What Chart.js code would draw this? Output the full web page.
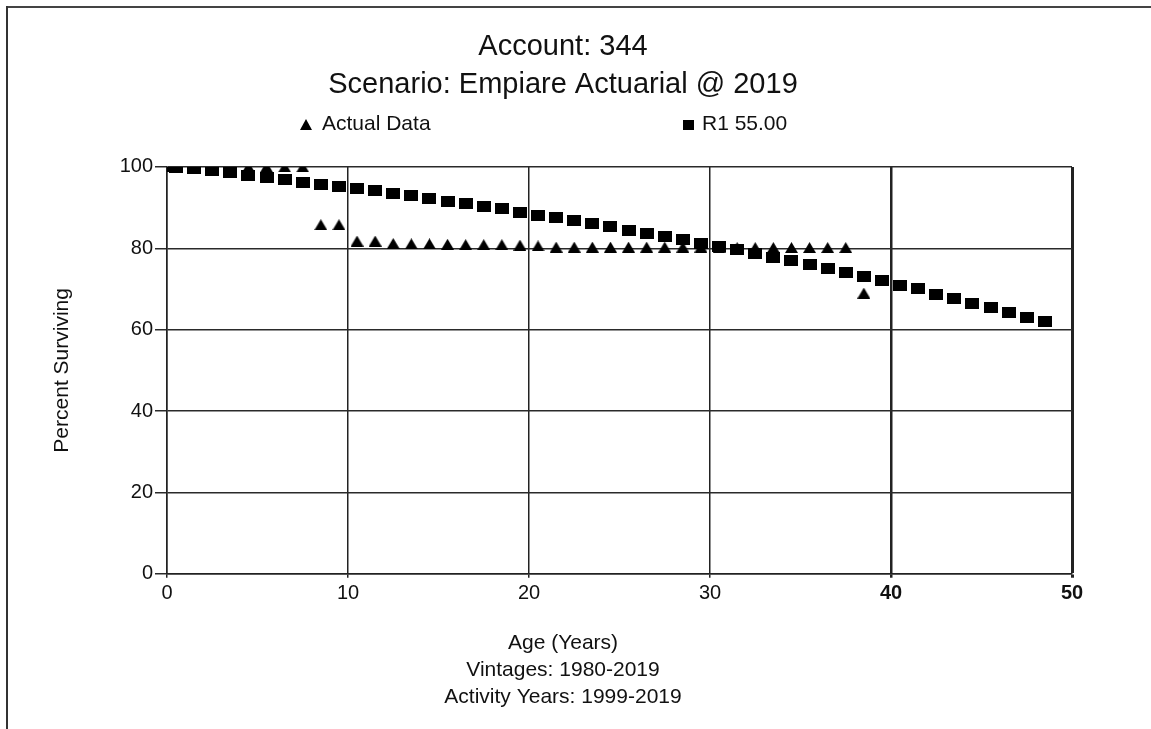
<!DOCTYPE html>
<html>
<head>
<meta charset="utf-8">
<script src="https://cdn.jsdelivr.net/npm/chart.js@4.4.1/dist/chart.umd.min.js"></script>
<style>
	body { margin: 0; background: #fff; }
	#wrap { position: relative; width: 1151px; height: 729px; font-family: "Liberation Sans", Arial, sans-serif; }
	#frameTop { position: absolute; left: 6px; top: 6px; right: 0; height: 2px; background: #444; }
	#frameLeft { position: absolute; left: 6px; top: 6px; bottom: 0; width: 2px; background: #333; }
	.legendItem { position: absolute; top: 111px; font-size: 21px; color: #111; white-space: nowrap; }
	.tri { display: inline-block; width: 0; height: 0; border-left: 6px solid transparent; border-right: 6px solid transparent; border-bottom: 11px solid #000; margin-right: 10px; }
	.sq { display: inline-block; width: 11px; height: 10px; background: #000; margin-right: 8px; }
</style>
</head>
<body>
<div id="wrap">
	<canvas id="survivalChart" width="1151" height="729"></canvas>
	<div id="frameTop"></div>
	<div id="frameLeft"></div>
	<div class="legendItem" style="left:300px;"><span class="tri"></span>Actual Data</div>
	<div class="legendItem" style="left:683px;"><span class="sq"></span>R1 55.00</div>
</div>
<script>
// Actual data (observed survivors)
const actualAges = [0, 0.5, 1.5, 2.5, 3.5, 4.5, 5.5, 6.5, 7.5, 8.5, 9.5, 10.5, 11.5, 12.5, 13.5, 14.5,
	15.5, 16.5, 17.5, 18.5, 19.5, 20.5, 21.5, 22.5, 23.5, 24.5, 25.5, 26.5, 27.5, 28.5, 29.5, 30.5,
	31.5, 32.5, 33.5, 34.5, 35.5, 36.5, 37.5, 38.5];
const actualValues = [100, 100, 100, 100, 100, 100, 100, 100, 100, 85.8, 85.8, 81.8, 81.8, 81.2, 81.1, 81.1,
	81.0, 80.9, 80.9, 80.9, 80.8, 80.6, 80.3, 80.3, 80.3, 80.3, 80.3, 80.3, 80.3, 80.3, 80.3, 80.3,
	80.2, 80.2, 80.2, 80.2, 80.2, 80.2, 80.2, 69.0];

// R1 55.00 fitted curve
const r1Ages = [0, 0.5, 1.5, 2.5, 3.5, 4.5, 5.5, 6.5, 7.5, 8.5, 9.5, 10.5, 11.5, 12.5, 13.5, 14.5,
	15.5, 16.5, 17.5, 18.5, 19.5, 20.5, 21.5, 22.5, 23.5, 24.5, 25.5, 26.5, 27.5, 28.5, 29.5, 30.5,
	31.5, 32.5, 33.5, 34.5, 35.5, 36.5, 37.5, 38.5, 39.5, 40.5, 41.5, 42.5, 43.5, 44.5, 45.5, 46.5,
	47.5, 48.5];
const r1Values = [100, 99.9, 99.6, 99.1, 98.6, 98.0, 97.4, 96.8, 96.3, 95.8, 95.1, 94.8, 94.2, 93.5, 92.9, 92.2,
	91.5, 91.0, 90.2, 89.7, 88.9, 88.1, 87.6, 86.8, 86.0, 85.3, 84.5, 83.7, 83.0, 82.1, 81.2, 80.5,
	79.6, 78.8, 77.8, 76.9, 76.1, 75.1, 74.0, 73.1, 72.1, 70.9, 70.1, 68.7, 67.7, 66.5, 65.5, 64.3,
	63.1, 62.0];

const titleLines = ['Account: 344', 'Scenario: Empiare Actuarial @ 2019'];
const xTitleLines = ['Age (Years)', 'Vintages: 1980-2019', 'Activity Years: 1999-2019'];
const yTitle = 'Percent Surviving';
const xTicks = [0, 10, 20, 30, 40, 50];
const yTicks = [0, 20, 40, 60, 80, 100];

// marker images
function makeMarker(w, h, draw) {
	const c = document.createElement('canvas');
	c.width = w; c.height = h;
	const g = c.getContext('2d');
	g.fillStyle = '#000';
	draw(g, w, h);
	return c;
}
const squareMark = makeMarker(14, 11, (g, w, h) => g.fillRect(0, 0, w, h));
const triangleMark = makeMarker(13, 11, (g, w, h) => {
	g.beginPath();
	g.moveTo(w / 2, 0);
	g.lineTo(w, h);
	g.lineTo(0, h);
	g.closePath();
	g.fill();
});

const toPoints = (xs, ys) => xs.map((x, i) => ({x: x, y: ys[i]}));

const ctx = document.getElementById('survivalChart').getContext('2d');
new Chart(ctx, {
	type: 'scatter',
	data: {
		datasets: [{
			label: 'Actual Data',
			data: toPoints(actualAges, actualValues),
			pointStyle: triangleMark,
			order: 0
		}, {
			label: 'R1 55.00',
			data: toPoints(r1Ages, r1Values),
			pointStyle: squareMark,
			order: 1
		}]
	},
	options: {
		responsive: false,
		animation: false,
		events: [],
		layout: {padding: {left: 54, right: 79, top: 0, bottom: 0}},
		plugins: {
			legend: {display: false},
			tooltip: {enabled: false},
			title: {
				display: true,
				text: titleLines,
				color: '#111',
				font: {family: 'Liberation Sans', size: 29, weight: 'normal', lineHeight: 1.31},
				padding: {top: 28, bottom: 63}
			},
			// x axis caption lines, centred on the whole picture
			subtitle: {
				display: true,
				position: 'bottom',
				text: xTitleLines,
				color: '#111',
				font: {family: 'Liberation Sans', size: 21, weight: 'normal', lineHeight: 1.29},
				padding: {top: 0, bottom: 18}
			}
		},
		scales: {
			x: {
				type: 'linear',
				min: 0,
				max: 50,
				afterFit: (s) => { s.height = 56; },
				afterBuildTicks: (s) => { s.ticks = xTicks.map(v => ({value: v})); },
				ticks: {
					color: '#111',
					padding: 4,
					font: (c) => ({family: 'Liberation Sans', size: 20,
						weight: (c.tick && c.tick.value >= 40) ? 'bold' : 'normal'})
				},
				grid: {
					color: '#222',
					lineWidth: (c) => c.tick && c.tick.value === 50 ? 3 : (c.tick && c.tick.value === 40 ? 2.5 : 1.5),
					tickLength: 4
				},
				border: {color: '#222', width: 1.5}
			},
			y: {
				type: 'linear',
				min: 0,
				max: 100,
				afterFit: (s) => { s.width = 113; },
				afterBuildTicks: (s) => { s.ticks = yTicks.map(v => ({value: v})); },
				ticks: {
					color: '#111',
					padding: 2,
					font: {family: 'Liberation Sans', size: 20}
				},
				grid: {color: '#2a2a2a', lineWidth: 1.5, tickLength: 12},
				border: {color: '#222', width: 1.5},
				title: {
					display: true,
					text: yTitle,
					color: '#111',
					font: {family: 'Liberation Sans', size: 21, lineHeight: 0.8},
					padding: {top: 0, bottom: 0}
				}
			}
		}
	}
});
</script>
</body>
</html>
